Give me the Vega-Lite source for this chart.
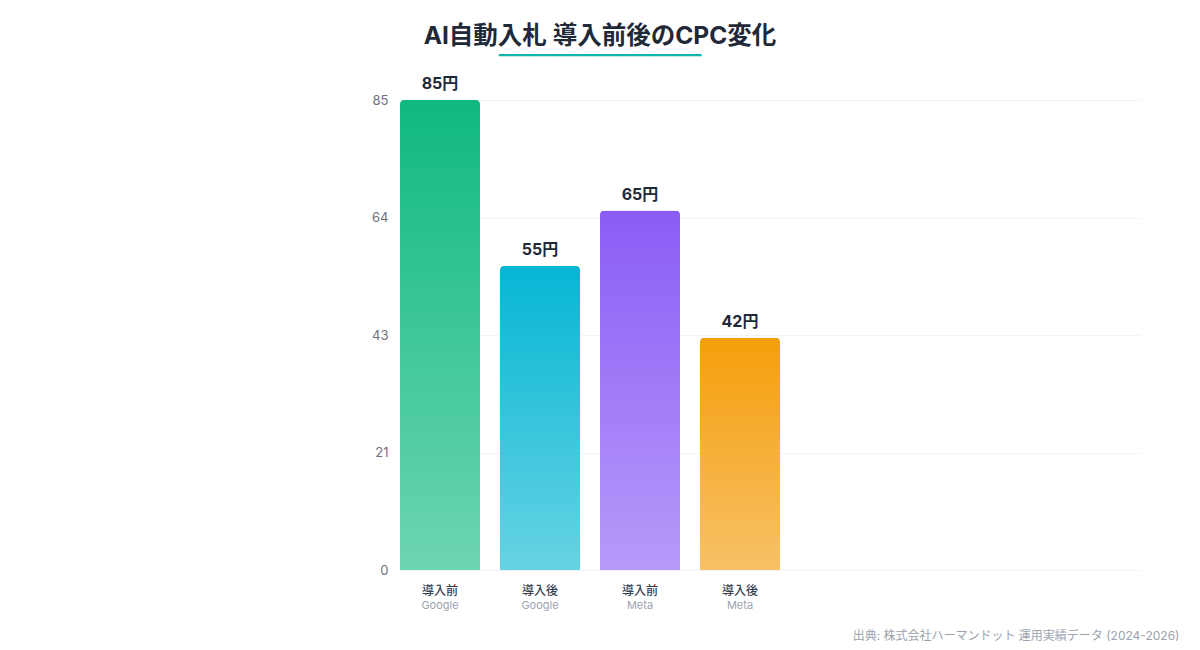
{
  "$schema": "https://vega.github.io/schema/vega-lite/v6.json",
  "autosize": {"type": "none"},
  "width": 740,
  "height": 470,
  "padding": {"left": 400, "top": 100, "right": 60, "bottom": 80},
  "background": "#ffffff",
  "config": {
    "font": "Inter, 'Noto Sans CJK JP', sans-serif",
    "view": {"stroke": null}
  },
  "title": {
    "text": "AI自動入札 導入前後のCPC変化",
    "subtitle": "━━━━━━━━━━━━━━━━━━━━━━━━",
    "anchor": "middle",
    "frame": "group",
    "dx": -170,
    "offset": 12,
    "fontSize": 24.5,
    "fontWeight": "bold",
    "color": "#1f2937",
    "subtitleFont": "DejaVu Sans Mono",
    "subtitleFontSize": 14,
    "subtitlePadding": 0,
    "subtitleColor": "#0bb7ac"
  },
  "data": {
    "values": [
      {"key": "g_before", "phase": "導入前", "platform": "Google", "value": 85, "label": "85円"},
      {"key": "g_after", "phase": "導入後", "platform": "Google", "value": 55, "label": "55円"},
      {"key": "m_before", "phase": "導入前", "platform": "Meta", "value": 65, "label": "65円"},
      {"key": "m_after", "phase": "導入後", "platform": "Meta", "value": 42, "label": "42円"}
    ]
  },
  "encoding": {
    "x": {
      "field": "key",
      "type": "nominal",
      "sort": null,
      "scale": {
        "domain": ["g_before", "g_after", "m_before", "m_after", "_empty1", "_empty2", "_empty3"],
        "paddingInner": 0.2,
        "paddingOuter": 0.3,
        "align": 0
      },
      "axis": {
        "labels": false,
        "ticks": false,
        "domain": false,
        "title": "出典: 株式会社ハーマンドット 運用実績データ (2024-2026)",
        "titleX": 779,
        "titleY": 65,
        "titleAlign": "right",
        "titleBaseline": "middle",
        "titleColor": "#9ca3af",
        "titleFontSize": 12,
        "titleFontWeight": "normal"
      }
    }
  },
  "layer": [
    {
      "mark": {"type": "bar", "cornerRadiusTopLeft": 4, "cornerRadiusTopRight": 4},
      "encoding": {
        "y": {
          "field": "value",
          "type": "quantitative",
          "scale": {"domain": [0, 85], "nice": false},
          "axis": {
            "values": [0, 21.25, 42.5, 63.75, 85],
            "format": ".0f",
            "title": null,
            "ticks": false,
            "domain": false,
            "labelColor": "#6b7280",
            "labelFontSize": 13,
            "labelPadding": 12,
            "gridColor": "#f3f4f6",
            "gridWidth": 1
          }
        },
        "fill": {
          "condition": [
            {"test": "datum.key === 'g_before'", "value": {"gradient": "linear", "x1": 0, "y1": 0, "x2": 0, "y2": 1, "stops": [{"offset": 0, "color": "#10b981"}, {"offset": 1, "color": "#6dd5b1"}]}},
            {"test": "datum.key === 'g_after'", "value": {"gradient": "linear", "x1": 0, "y1": 0, "x2": 0, "y2": 1, "stops": [{"offset": 0, "color": "#06b6d4"}, {"offset": 1, "color": "#66d3e4"}]}},
            {"test": "datum.key === 'm_before'", "value": {"gradient": "linear", "x1": 0, "y1": 0, "x2": 0, "y2": 1, "stops": [{"offset": 0, "color": "#8b5cf6"}, {"offset": 1, "color": "#b69af9"}]}}
          ],
          "value": {"gradient": "linear", "x1": 0, "y1": 0, "x2": 0, "y2": 1, "stops": [{"offset": 0, "color": "#f59e0b"}, {"offset": 1, "color": "#f8c166"}]}
        }
      }
    },
    {
      "mark": {"type": "text", "baseline": "bottom", "dy": -8, "fontSize": 16, "fontWeight": "bold", "color": "#1f2937"},
      "encoding": {
        "y": {"field": "value", "type": "quantitative"},
        "text": {"field": "label"}
      }
    },
    {
      "mark": {"type": "text", "baseline": "middle", "dy": 21, "fontSize": 12, "fontWeight": 500, "color": "#374151"},
      "encoding": {
        "y": {"datum": 0},
        "text": {"field": "phase"}
      }
    },
    {
      "mark": {"type": "text", "baseline": "middle", "dy": 36, "fontSize": 11, "color": "#9ca3af"},
      "encoding": {
        "y": {"datum": 0},
        "text": {"field": "platform"}
      }
    }
  ]
}
